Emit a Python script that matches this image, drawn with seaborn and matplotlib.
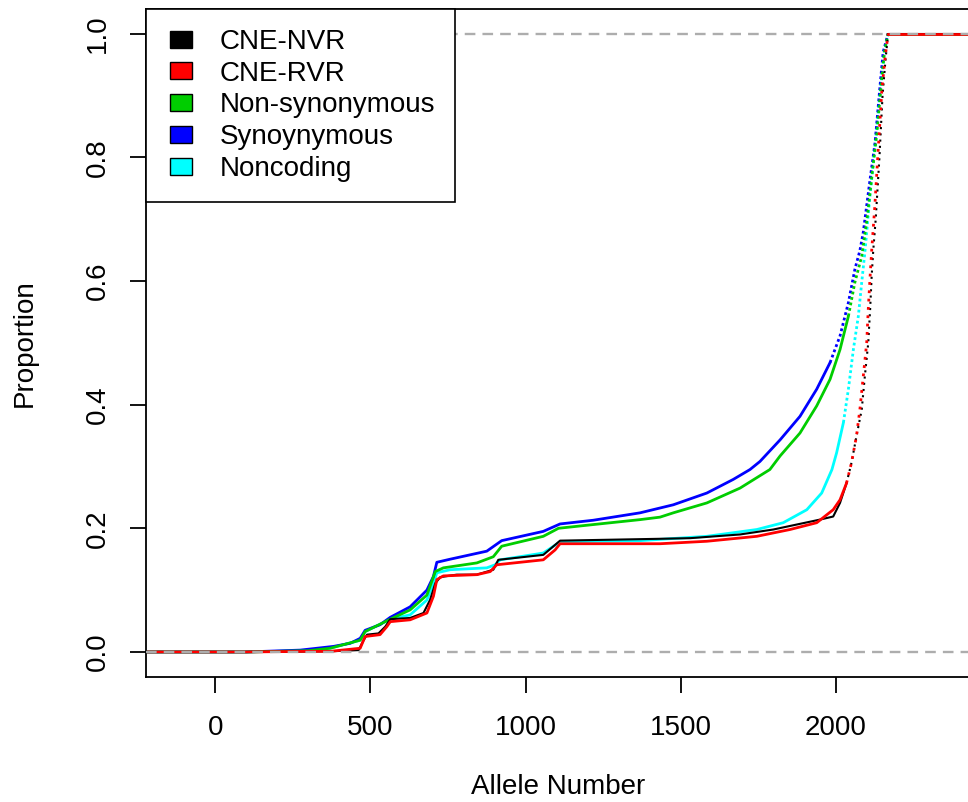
import numpy as np
import pandas as pd
import matplotlib
matplotlib.use("Agg")
import matplotlib.pyplot as plt
import seaborn as sns
from matplotlib.patches import Rectangle, Patch
from matplotlib.legend_handler import HandlerPatch

# ---------------- data ----------------
categories = ["CNE-NVR", "CNE-RVR", "Non-synonymous", "Synoynymous", "Noncoding"]
colors = ["#000000", "#FF0000", "#00CD00", "#0000FF", "#00FFFF"]

nvr_x = [-250, 100, 370, 462, 478, 489, 526, 548, 564, 628, 671, 692, 709, 725, 778, 843, 896, 912,
         1057, 1090, 1111, 1433, 1530, 1691, 1798, 1873, 1948, 1991, 2013, 2034, 2050, 2066, 2083,
         2093, 2104, 2110, 2115, 2120, 2128, 2140, 2150, 2160, 2168, 2500]
nvr_y = [0, 0, 0.001, 0.003, 0.019, 0.028, 0.030, 0.041, 0.053, 0.055, 0.063, 0.084, 0.111, 0.121,
         0.125, 0.125, 0.133, 0.149, 0.157, 0.171, 0.180, 0.183, 0.184, 0.190, 0.198, 0.206, 0.214,
         0.219, 0.241, 0.273, 0.306, 0.349, 0.392, 0.446, 0.500, 0.554, 0.608, 0.649, 0.700, 0.800,
         0.900, 0.960, 1.0, 1.0]

rvr_x = [-250, 100, 300, 370, 467, 483, 531, 553, 564, 628, 682, 703, 714, 735, 843, 886, 907, 1057,
         1095, 1111, 1433, 1584, 1745, 1852, 1938, 1991, 2013, 2034, 2050, 2066, 2077, 2088, 2099,
         2104, 2110, 2115, 2125, 2137, 2148, 2158, 2168, 2500]
rvr_y = [0, 0, 0.001, 0.001, 0.006, 0.025, 0.028, 0.041, 0.049, 0.052, 0.063, 0.090, 0.117, 0.123,
         0.125, 0.130, 0.141, 0.149, 0.165, 0.175, 0.175, 0.179, 0.187, 0.198, 0.209, 0.230, 0.246,
         0.273, 0.306, 0.349, 0.392, 0.446, 0.500, 0.554, 0.608, 0.649, 0.720, 0.820, 0.910, 0.960,
         1.0, 1.0]

nonsyn_x = [-250, 100, 300, 370, 467, 483, 564, 628, 682, 709, 735, 843, 896, 923, 1057, 1106, 1218,
            1369, 1433, 1476, 1584, 1691, 1787, 1820, 1884, 1938, 1981, 2013, 2040, 2061, 2083, 2100,
            2118, 2132, 2146, 2156, 2168, 2500]
nonsyn_y = [0, 0, 0.002, 0.006, 0.019, 0.033, 0.053, 0.068, 0.092, 0.130, 0.136, 0.144, 0.154, 0.171,
            0.187, 0.200, 0.206, 0.214, 0.218, 0.225, 0.241, 0.265, 0.295, 0.317, 0.354, 0.398, 0.441,
            0.489, 0.543, 0.598, 0.640, 0.700, 0.780, 0.840, 0.920, 0.970, 1.0, 1.0]

syn_x = [-250, 100, 274, 381, 435, 467, 483, 531, 564, 628, 682, 703, 714, 757, 875, 923, 1057, 1111,
         1218, 1369, 1476, 1584, 1669, 1723, 1755, 1820, 1884, 1938, 1981, 2013, 2040, 2061, 2077,
         2088, 2110, 2126, 2142, 2152, 2168, 2500]
syn_y = [0, 0, 0.003, 0.009, 0.014, 0.022, 0.035, 0.044, 0.056, 0.073, 0.100, 0.122, 0.145, 0.150,
         0.163, 0.180, 0.195, 0.207, 0.213, 0.225, 0.238, 0.257, 0.279, 0.295, 0.308, 0.343, 0.381,
         0.425, 0.468, 0.511, 0.565, 0.619, 0.649, 0.679, 0.765, 0.824, 0.916, 0.970, 1.0, 1.0]

noncod_x = [-250, 100, 300, 370, 467, 483, 564, 628, 682, 703, 714, 757, 875, 902, 918, 1057, 1090,
            1111, 1369, 1584, 1745, 1830, 1906, 1954, 1987, 2002, 2024, 2040, 2056, 2072, 2083, 2093,
            2110, 2128, 2145, 2156, 2168, 2500]
noncod_y = [0, 0, 0.002, 0.006, 0.019, 0.033, 0.053, 0.060, 0.084, 0.111, 0.128, 0.133, 0.136, 0.141,
            0.149, 0.160, 0.171, 0.178, 0.180, 0.187, 0.198, 0.209, 0.230, 0.257, 0.295, 0.322, 0.371,
            0.425, 0.489, 0.543, 0.598, 0.646, 0.740, 0.830, 0.920, 0.970, 1.0, 1.0]

x_ticks = [0, 500, 1000, 1500, 2000]
x_ticklabels = ["0", "500", "1000", "1500", "2000"]
y_ticks = [0.0, 0.2, 0.4, 0.6, 0.8, 1.0]
y_ticklabels = ["0.0", "0.2", "0.4", "0.6", "0.8", "1.0"]
x_label = "Allele Number"
y_label = "Proportion"

series = {
    "CNE-NVR": (nvr_x, nvr_y),
    "CNE-RVR": (rvr_x, rvr_y),
    "Non-synonymous": (nonsyn_x, nonsyn_y),
    "Synoynymous": (syn_x, syn_y),
    "Noncoding": (noncod_x, noncod_y),
}

# ---------------- style ----------------
sns.set_style("ticks")
plt.rcParams["font.family"] = ["Liberation Sans", "DejaVu Sans"]
plt.rcParams["text.color"] = "black"
plt.rcParams["axes.labelcolor"] = "black"
plt.rcParams["xtick.color"] = "black"
plt.rcParams["ytick.color"] = "black"
FS = 20

color_map = dict(zip(categories, colors))
dot_from = {"CNE-NVR": 0.26, "CNE-RVR": 0.27, "Non-synonymous": 0.50,
            "Synoynymous": 0.45, "Noncoding": 0.33}
dot_pat = {"CNE-NVR": (1, 2.0), "CNE-RVR": (1, 2.0), "Non-synonymous": (1, 1.0),
           "Synoynymous": (1, 1.0), "Noncoding": (1, 1.0)}
lw_map = {"CNE-NVR": 1.5, "CNE-RVR": 2.0, "Non-synonymous": 2.0,
          "Synoynymous": 2.0, "Noncoding": 2.0}
draw_order = ["Noncoding", "Synoynymous", "Non-synonymous", "CNE-NVR", "CNE-RVR"]

fig = plt.figure(figsize=(9.68, 8.02), dpi=100)
ax = fig.add_axes([146 / 968, (802 - 676.7) / 802, 825 / 968, 667.9 / 802])

for name in draw_order:
    x, y = series[name]
    df = pd.DataFrame({"x": x, "y": y})
    c = color_map[name]
    lw = lw_map[name]
    i = int(np.argmax(df["y"].values > dot_from[name]))
    j = int(np.argmax(df["y"].values >= 1.0))
    solid = df.iloc[:i + 1]
    dotted = df.iloc[i:j + 1]
    top = df.iloc[j:]
    sns.lineplot(data=solid, x="x", y="y", sort=False, estimator=None, color=c, lw=lw, ax=ax)
    sns.lineplot(data=dotted, x="x", y="y", sort=False, estimator=None, color=c, lw=lw,
                 linestyle=(0, dot_pat[name]), ax=ax)
    sns.lineplot(data=top, x="x", y="y", sort=False, estimator=None, color=c, lw=lw, ax=ax)

for yv in (0, 1):
    ax.axhline(yv, color="#ADADAD", lw=1.7, ls=(0, (4.5, 3)), zorder=5)

ax.set_xlim(-223, 2435)
ax.set_ylim(-0.04, 1.04)
ax.set_xticks(x_ticks)
ax.set_xticklabels(x_ticklabels, fontsize=FS, color="black")
ax.set_yticks(y_ticks)
ax.set_yticklabels(y_ticklabels, fontsize=FS, rotation=90, va="center", color="black")
ax.tick_params(axis="both", length=11.5, width=1.3, direction="out", color="black")
ax.tick_params(axis="x", pad=16)
ax.tick_params(axis="y", pad=14)
ax.set_xlabel("")
ax.set_ylabel("")
for s in ax.spines.values():
    s.set_color("black")
    s.set_linewidth(1.3)


class RightRect(HandlerPatch):
    def create_artists(self, legend, orig_handle, xdescent, ydescent, width, height, fontsize, trans):
        w, h, off = 15.8, 12.2, 3.0
        p = Rectangle((-xdescent + off, -ydescent + (height - h) / 2), w, h,
                      facecolor=orig_handle.get_facecolor(), edgecolor="black", lw=1.0,
                      transform=trans)
        return [p]


handles = [Patch(facecolor=color_map[n], edgecolor="black") for n in categories]
leg = ax.legend(handles, categories, loc="upper left", bbox_to_anchor=(0, 1), borderaxespad=0,
                fontsize=FS, frameon=True, fancybox=False, edgecolor="black", framealpha=1,
                borderpad=0.72, labelspacing=0.21, handlelength=1.23, handleheight=0.7,
                handletextpad=0.7, handler_map={Patch: RightRect()})
leg.get_frame().set_linewidth(1.2)
leg.set_zorder(10)
for t in leg.get_texts():
    t.set_color("black")

ax_center_y = 1 - ((8.8 + 676.7) / 2) / 802
fig.text(25 / 968, ax_center_y, y_label, rotation=90, ha="center", va="center", fontsize=FS,
         color="black")
fig.text(558.5 / 968, 8 / 802, x_label, ha="center", va="baseline", fontsize=FS, color="black")

fig.savefig("out.png", dpi=100)
